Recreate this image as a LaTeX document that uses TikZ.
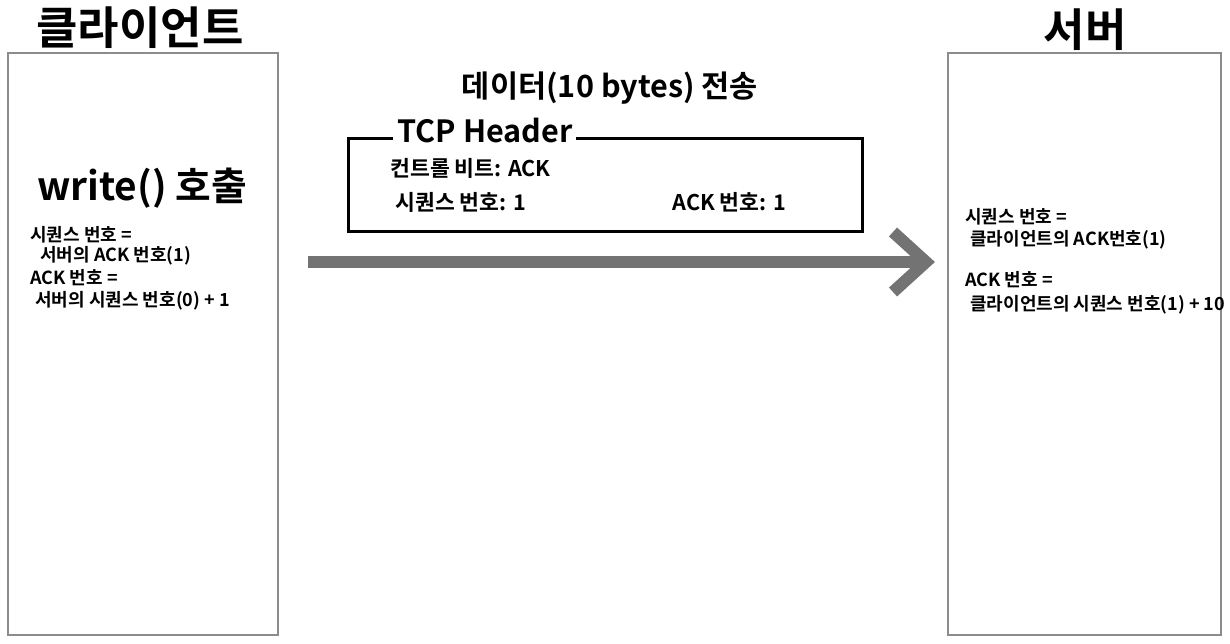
\documentclass[tikz,border=0pt]{standalone}
\usepackage{fontspec}
\setmainfont{Noto Sans CJK KR}[BoldFont={Noto Sans CJK KR Bold}]
\begin{document}
\begin{tikzpicture}[x=0.5pt,y=-0.5pt,
  panel/.style={draw=black!45,line width=0.8pt},
  title/.style={font=\fontsize{22.5}{22.5}\selectfont\bfseries,inner sep=0pt},
  big/.style={font=\fontsize{19.4}{19.4}\selectfont\bfseries,inner sep=0pt},
  mid/.style={font=\fontsize{15.3}{15.3}\selectfont\bfseries,inner sep=0pt},
  small/.style={font=\fontsize{9}{9}\selectfont\bfseries,inner sep=0pt,anchor=west},
  hdr/.style={font=\fontsize{10.8}{10.8}\selectfont\bfseries,inner sep=0pt,anchor=west},
  flow/.style={draw=black!55,line width=6pt}]
\useasboundingbox (0,0) rectangle (1230,643);
\fill[white] (0,0) rectangle (1230,643);
% panels
\node[panel,minimum width=270*0.5pt,minimum height=582*0.5pt,anchor=north west,inner sep=0pt] (client) at (7,52) {};
\node[panel,minimum width=273*0.5pt,minimum height=582*0.5pt,anchor=north west,inner sep=0pt] (server) at (947,52) {};
\node[title] (ctitle) at (140,28) {클라이언트};
\node[title] (stitle) at (1085,30) {서버};
% client texts
\node[big] (write) at (142,188) {write() 호출};
\node[small] (c1) at (30,235) {시퀀스 번호 =};
\node[small] (c2) at (40,256) {서버의 ACK 번호(1)};
\node[small] (c3) at (30,278) {ACK 번호 =};
\node[small] (c4) at (35,301) {서버의 시퀀스 번호(0) + 1};
% server texts
\node[small] (s1) at (965,217) {시퀀스 번호 =};
\node[small] (s2) at (970,240) {클라이언트의 ACK번호(1)};
\node[small] (s3) at (965,280) {ACK 번호 =};
\node[small] (s4) at (970,305) {클라이언트의 시퀀스 번호(1) + 10};
% data label
\node[mid] (data) at (610,88) {데이터(10 bytes) 전송};
% TCP header box
\draw[line width=1.5pt] (348,138) rectangle (862,231);
\node[mid,fill=white,inner xsep=2pt,anchor=west] (tcp) at (393,131) {TCP Header};
\node[hdr] (h1) at (390,168) {컨트롤 비트: ACK};
\node[hdr] (h2) at (395,202) {시퀀스 번호: 1};
\node[hdr] (h3) at (672,202) {ACK 번호: 1};
% arrow
\coordinate (a0) at (308,262);
\coordinate (a1) at (920,262);
\coordinate (tip) at (926,262);
\coordinate (up) at (893,232);
\coordinate (dn) at (893,292);
\draw[flow] (a0) -- (a1);
\draw[flow,line cap=butt,line join=miter] (up) -- (tip) -- (dn);
\end{tikzpicture}
\end{document}
